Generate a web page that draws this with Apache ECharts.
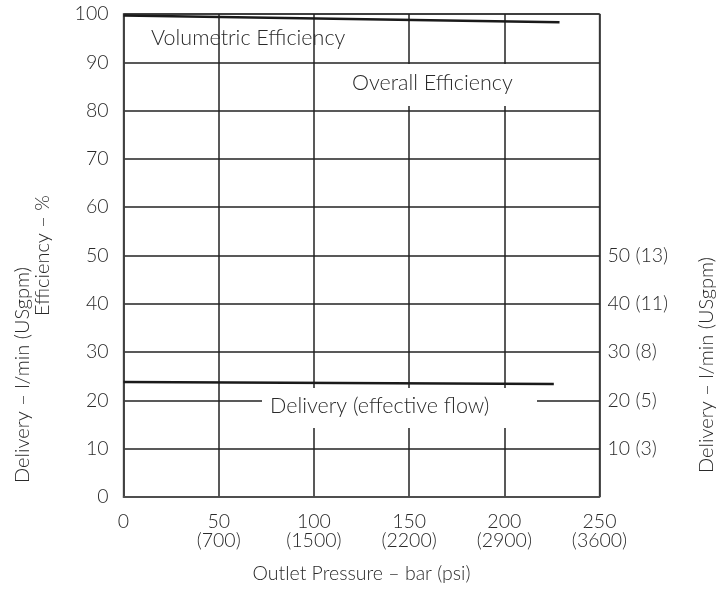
<!DOCTYPE html>
<html>
<head>
<meta charset="utf-8">
<script src="https://cdn.jsdelivr.net/npm/echarts@6/dist/echarts.min.js"></script>
<style>
html,body{margin:0;padding:0;background:#fff;}
#chart{width:727px;height:592px;}
</style>
</head>
<body>
<div id="chart"></div>
<script>
const pressureBar = [0, 50, 100, 150, 200, 250];
const pressurePsi = ['', '(700)', '(1500)', '(2200)', '(2900)', '(3600)'];
const efficiencyTicks = [0, 10, 20, 30, 40, 50, 60, 70, 80, 90, 100];
const deliveryTicks = { 10: '10 (3)', 20: '20 (5)', 30: '30 (8)', 40: '40 (11)', 50: '50 (13)' };
const volumetricEff = [[0, 99.7], [229, 98.3]];
const deliveryFlow = [[0, 23.8], [226, 23.4]];

const FONT = 'Lato, "Open Sans", sans-serif';
const FW = 300;
const TXT = '#2a2a2a';
const chart = echarts.init(document.getElementById('chart'));
const psiMap = {};
pressureBar.forEach((v, i) => psiMap[v] = pressurePsi[i]);

chart.setOption({
  animation: false,
  grid: { left: 123.5, right: 127.5, top: 14, bottom: 95, show: true, borderColor: '#777', borderWidth: 1.5 },
  xAxis: {
    type: 'value', min: 0, max: 250, interval: 50,
    name: 'Outlet Pressure – bar (psi)', nameLocation: 'middle', nameGap: 67,
    nameTextStyle: { fontFamily: FONT, fontWeight: FW, fontSize: 19.5, color: TXT },
    axisLine: { show: true, lineStyle: { color: '#555', width: 1.5 } },
    axisTick: { show: false },
    axisLabel: {
      fontFamily: FONT, fontWeight: FW, fontSize: 19.5, color: TXT, margin: 15, lineHeight: 19,
      formatter: v => psiMap[v] ? v + '\n' + psiMap[v] : String(v)
    },
    splitLine: { show: true, lineStyle: { color: '#222', width: 1.5 } }
  },
  yAxis: [{
    type: 'value', min: 0, max: 100, interval: 10,
    name: 'Efficiency – %', nameLocation: 'middle', nameGap: 71,
    nameTextStyle: { fontFamily: FONT, fontWeight: FW, fontSize: 20, color: TXT },
    axisLine: { show: true, lineStyle: { color: '#444', width: 1.5 } },
    axisTick: { show: false },
    axisLabel: { fontFamily: FONT, fontWeight: FW, fontSize: 19.5, color: TXT, margin: 15,
      formatter: v => efficiencyTicks.includes(v) ? String(v) : '' },
    splitLine: { show: true, lineStyle: { color: '#222', width: 1.5 } }
  }, {
    type: 'value', min: 0, max: 100, interval: 10, position: 'right',
    axisLine: { show: false }, axisTick: { show: false },
    axisLabel: { fontFamily: FONT, fontWeight: FW, fontSize: 19.5, color: TXT, margin: 8,
      formatter: v => deliveryTicks[v] || '' },
    splitLine: { show: false }
  }],
  series: [{
    type: 'line', data: volumetricEff, symbol: 'none', z: 5,
    lineStyle: { color: '#1a1a1a', width: 2.5 }
  }, {
    type: 'line', data: deliveryFlow, symbol: 'none', z: 5,
    lineStyle: { color: '#1a1a1a', width: 2.5 }
  }],
  graphic: [
    { type: 'text', left: 151, top: 27, z: 10, style: { text: 'Volumetric Efficiency', font: FW + ' 21.5px ' + FONT, fill: TXT } },
    { type: 'rect', shape: { x: 340, y: 64, width: 175, height: 42 }, z: 9, style: { fill: '#fff' } },
    { type: 'text', left: 352, top: 72, z: 10, style: { text: 'Overall Efficiency', font: FW + ' 21.5px ' + FONT, fill: TXT } },
    { type: 'rect', shape: { x: 262, y: 388, width: 275, height: 40 }, z: 9, style: { fill: '#fff' } },
    { type: 'text', left: 270, top: 395, z: 10, style: { text: 'Delivery (effective flow)', font: FW + ' 21.5px ' + FONT, fill: TXT } },
    { type: 'text', x: 23, y: 375, rotation: Math.PI / 2, z: 10,
      style: { text: 'Delivery – l/min (USgpm)', font: FW + ' 20px ' + FONT, fill: TXT, align: 'center', verticalAlign: 'middle' } },
    { type: 'text', x: 707, y: 365, rotation: Math.PI / 2, z: 10,
      style: { text: 'Delivery – l/min (USgpm)', font: FW + ' 20px ' + FONT, fill: TXT, align: 'center', verticalAlign: 'middle' } }
  ]
});
</script>
</body>
</html>
